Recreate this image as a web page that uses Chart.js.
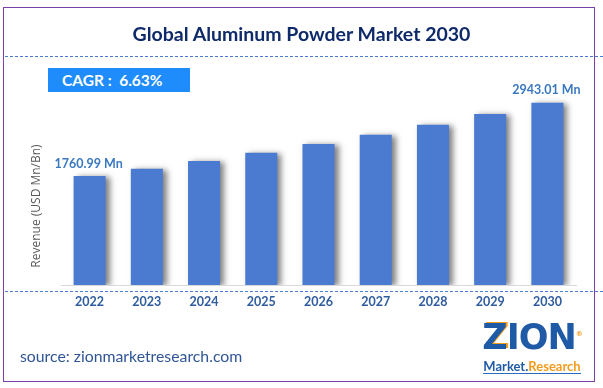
<!DOCTYPE html>
<html>
<head>
<meta charset="utf-8">
<script src="https://cdn.jsdelivr.net/npm/chart.js@4.4.0/dist/chart.umd.min.js"></script>
<style>
  body { margin: 0; background: #fff; font-family: Lato, "Open Sans", sans-serif; }
  #wrap { position: relative; width: 603px; height: 388px; overflow: hidden; }
  #chart { position: absolute; left: 0; top: 0; }
  .frame { position: absolute; left: 3px; top: 7px; width: 590px; height: 373px; border: 1.5px solid #7a3fa8; }
  .dash { position: absolute; left: 5px; width: 598px; border-top: 1px dashed #4a7bd0; }
  .title { position: absolute; left: 0; width: 603px; top: 22px; text-align: center;
           font-weight: bold; font-size: 19.5px; color: #0f2a6b; }
  .cagr { position: absolute; left: 48px; top: 68px; width: 142px; height: 24px; background: #1e8cfa;
          color: #fff; font-weight: bold; font-size: 15.5px; line-height: 24px; box-sizing: border-box; padding-left: 14px; }
  .ytitle { position: absolute; left: 36px; top: 206px; width: 200px; margin-left: -100px; margin-top: -9px;
            text-align: center; line-height: 18px; transform: rotate(-90deg);
            font-family: "Open Sans", sans-serif; font-size: 12px; color: #595959; }
  .source { position: absolute; left: 20px; top: 346px; font-size: 15.8px; color: #2f5597; }
  .logo { position: absolute; left: 482px; top: 316px; width: 100px; text-align: center; }
  .logo .zion { font-family: "DejaVu Sans", sans-serif; font-weight: bold; font-size: 35px; color: #1f5aa6; letter-spacing: -1px; line-height: 36px; }
  .logo .zion .z { color: #1f5aa6; text-shadow: 2px -1px 0 #f39c1e; }
  .logo .mr { font-weight: bold; font-size: 13px; line-height: 14px; border-bottom: 1px solid #2a6cc0; display: inline-block; }
  .logo .m { color: #1f5aa6; }
  .logo .r { color: #f39c1e; }
  .logo sup { font-size: 7px; color: #f39c1e; }
</style>
</head>
<body>
<div id="wrap">
  <canvas id="chart" width="603" height="388"></canvas>
  <div class="frame"></div>
  <div class="title">Global Aluminum Powder Market 2030</div>
  <div class="dash" style="top:56px"></div>
  <div class="cagr">CAGR :&nbsp; 6.63%</div>
  <div class="ytitle" id="ytitle"></div>
  <div class="dash" style="top:291px"></div>
  <div class="source">source: zionmarketresearch.com</div>
  <div class="logo">
    <div class="zion"><span class="z">Z</span>ION<sup>®</sup></div>
    <div class="mr"><span class="m">Market.</span><span class="r">Research</span></div>
  </div>
</div>
<script>
// chart data
const years = ['2022', '2023', '2024', '2025', '2026', '2027', '2028', '2029', '2030'];
const revenue = [1760.99, 1878, 2002, 2135, 2277, 2427, 2588, 2760, 2943.01];
const barLabels = ['1760.99 Mn', '', '', '', '', '', '', '', '2943.01 Mn'];
const yTitle = 'Revenue (USD Mn/Bn)';

document.getElementById('ytitle').textContent = yTitle;

// soft shadow to the right of each bar
const barShadow = {
    id: 'barShadow',
    beforeDatasetsDraw(chart) {
        const ctx = chart.ctx;
        ctx.save();
        ctx.shadowColor = 'rgba(0, 0, 0, 0.5)';
        ctx.shadowBlur = 6;
        ctx.shadowOffsetX = 4;
        ctx.shadowOffsetY = 1;
    },
    afterDatasetsDraw(chart) {
        chart.ctx.restore();
    }
};

// value text above first and last bar
const valueLabels = {
    id: 'valueLabels',
    afterDraw(chart) {
        const ctx = chart.ctx;
        const meta = chart.getDatasetMeta(0);
        ctx.save();
        ctx.font = 'bold 12.5px Lato, sans-serif';
        ctx.fillStyle = '#3a78c0';
        ctx.textAlign = 'center';
        ctx.textBaseline = 'bottom';
        meta.data.forEach((bar, i) => {
            if (barLabels[i]) ctx.fillText(barLabels[i], bar.x - 1, bar.y - 6);
        });
        ctx.restore();
    }
};

new Chart(document.getElementById('chart'), {
    type: 'bar',
    data: {
        labels: years,
        datasets: [{
            data: revenue,
            backgroundColor: '#4a7bd0',
            barPercentage: 0.56,
            categoryPercentage: 1.0
        }]
    },
    options: {
        responsive: false,
        animation: false,
        layout: { padding: { left: 61, right: 27, top: 62, bottom: 0 } },
        plugins: {
            legend: { display: false },
            tooltip: { enabled: false }
        },
        scales: {
            x: {
                grid: { display: false, drawTicks: false },
                border: { display: true, color: '#d9d9d9', width: 1 },
                ticks: { color: '#2e5c9e', padding: 9, font: { family: 'Lato', size: 12.5, weight: 'bold' } },
                afterFit(scale) { scale.height = 103; }
            },
            y: {
                display: false,
                min: 0,
                max: 3600
            }
        }
    },
    plugins: [barShadow, valueLabels]
});
</script>
</body>
</html>
